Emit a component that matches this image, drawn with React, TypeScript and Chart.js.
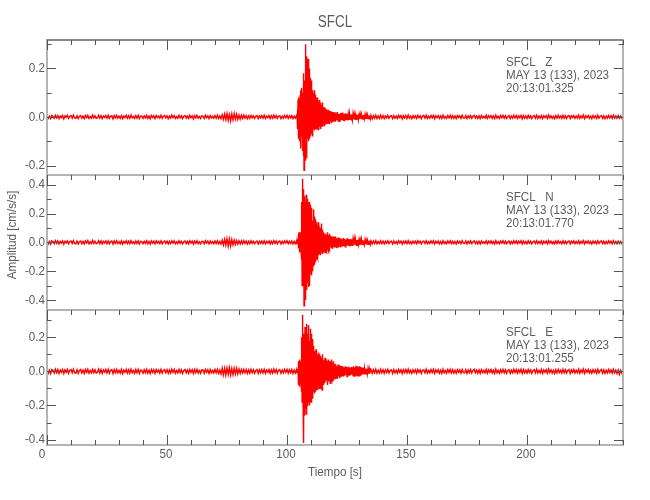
import { useEffect, useRef } from "react";
import { Chart, registerables } from "chart.js";

Chart.register(...registerables);

// ---------- axis / tick data ----------
const xMajorTicks = [0, 50, 100, 150, 200];
const xMinorTicks = [0, 10, 20, 30, 40, 50, 60, 70, 80, 90, 100, 110, 120, 130, 140, 150, 160, 170, 180, 190, 200, 210, 220, 230, 240];
const xTickLabels = ["0", "50", "100", "150", "200"];

const zMajorTicks = [-0.2, 0, 0.2];
const zMinorTicks = [-0.2, -0.1, 0, 0.1, 0.2, 0.3];
const zTickLabels = ["-0.2", "0.0", "0.2"];
const nMajorTicks = [-0.4, -0.2, 0, 0.2, 0.4];
const nMinorTicks = [-0.4, -0.3, -0.2, -0.1, 0, 0.1, 0.2, 0.3, 0.4];
const nTickLabels = ["-0.4", "-0.2", "0.0", "0.2", "0.4"];
const eMajorTicks = [-0.4, -0.2, 0, 0.2];
const eMinorTicks = [-0.4, -0.3, -0.2, -0.1, 0, 0.1, 0.2, 0.3];
const eTickLabels = ["-0.4", "-0.2", "0.0", "0.2"];

const zRange = [-0.239, 0.317];
const nRange = [-0.469, 0.467];
const eRange = [-0.432, 0.36];

const stationName = "SFCL";
const components = ["Z", "N", "E"];
const dateLabel = "MAY 13 (133), 2023";
const startTimes = ["20:13:01.325", "20:13:01.770", "20:13:01.255"];

// sample timing of each segment: [start s, step s]
const preTiming = [0, 0.5];
const eventTiming = [104, 0.1];
const codaTiming = [120, 0.25];
const postTiming = [135, 0.5];

// ---------- Z trace (cm/s/s) ----------
const zPre = [
  0.005, -0.006, 0.003, -0.007, 0.006, 0.002, -0.005, 0.007, -0.004, 0.006,
  -0.007, 0.004, -0.003, 0.006, -0.008, 0.005, -0.002, 0.007, -0.006, 0.003,
  0.006, -0.005, 0.008, -0.004, -0.006, 0.005, -0.007, 0.003, 0.006, -0.005,
  0.004, -0.007, 0.006, -0.003, 0.007, -0.006, 0.002, -0.005, 0.008, -0.004,
  0.005, -0.006, -0.003, 0.007, -0.005, 0.006, -0.007, 0.004, -0.002, 0.006,
  -0.005, 0.007, -0.006, 0.003, 0.005, -0.008, 0.006, -0.004, 0.007, -0.005,
  0.003, -0.006, 0.006, -0.007, 0.004, -0.003, 0.007, -0.005, 0.005, -0.006,
  0.008, -0.004, 0.002, -0.006, 0.006, -0.005, 0.007, -0.007, 0.004, 0.003,
  -0.006, 0.005, -0.004, 0.007, -0.006, 0.004, -0.008, 0.006, -0.003, 0.005,
  -0.007, 0.006, -0.002, 0.004, -0.005, 0.007, -0.006, 0.003, 0.006, -0.004,
  0.005, -0.007, 0.004, -0.005, 0.008, -0.003, 0.006, -0.006, 0.002, -0.005,
  0.007, -0.004, 0.005, -0.007, 0.003, 0.006, -0.005, 0.004, -0.006, 0.007,
  -0.003, 0.005, -0.008, 0.006, -0.004, 0.007, -0.005, 0.002, -0.006, 0.005,
  0.004, -0.006, 0.007, -0.003, 0.005, -0.007, 0.006, -0.004, 0.003, -0.005,
  0.006, -0.005, 0.007, -0.006, 0.004, -0.007, 0.009, -0.01, 0.012, -0.011,
  0.015, -0.014, 0.01, -0.016, 0.013, -0.012, 0.014, -0.009, 0.011, -0.01,
  0.008, -0.009, 0.007, -0.006, 0.008, -0.005, 0.006, -0.007, 0.005, -0.006,
  0.007, -0.004, 0.005, -0.006, 0.003, 0.006, -0.007, 0.005, -0.004, 0.006,
  -0.005, 0.007, -0.006, 0.004, -0.003, 0.006, -0.007, 0.005, -0.005, 0.008,
  -0.004, 0.006, -0.006, 0.003, 0.005, -0.007, 0.004, -0.005, 0.006, -0.003,
  0.007, -0.006, 0.005, -0.004, 0.006, -0.007, 0.004, -0.005,
];
const zEvent = [
  0.006, -0.005, 0.007, -0.006,
  0.03, -0.05, 0.07, -0.04, 0.08, -0.09, 0.05, -0.07, 0.06, -0.1, 0.04,
  0.09, -0.06, 0.11, -0.13, 0.07, -0.08, 0.12, -0.05, 0.1, -0.14, 0.06, -0.11, 0.08,
  0.18, -0.16, 0.12, -0.22, 0.15, -0.19, 0.1,
  -0.14, 0.21, -0.1, 0.3, -0.18, 0.25, -0.12, 0.16, -0.17, 0.22,
  -0.09, 0.18, -0.06, 0.24, -0.1, 0.13, -0.08, 0.2, -0.05, 0.11, -0.09, 0.16, -0.07, 0.12,
  -0.08, 0.15, -0.04, 0.09, -0.07, 0.13, -0.06, 0.08, -0.08, 0.11, -0.03,
  0.1, -0.05, 0.07, -0.04, 0.11, -0.055, 0.06, -0.03, 0.09, -0.05, 0.05, -0.04, 0.08, -0.03,
  0.06, -0.05, 0.04, -0.03, 0.08, -0.04, 0.05, -0.055, 0.03, -0.02,
  0.07, -0.04, 0.05, -0.03, 0.04, -0.05, 0.06, -0.02, 0.03, -0.04,
  0.05, -0.03, 0.04, -0.02, 0.06, -0.04, 0.03,
  -0.03, 0.04, -0.02, 0.03, -0.035, 0.02, -0.03, 0.04, -0.02, 0.025,
  -0.03, 0.035, -0.015, 0.02, -0.03, 0.03, -0.025, 0.02, -0.02, 0.03,
  -0.025, 0.015, -0.02, 0.03, -0.015, 0.025, -0.02, 0.02, -0.03, 0.015,
  -0.02, 0.025, -0.015, 0.02, -0.02, 0.015, -0.025, 0.02, -0.015, 0.02,
  -0.02, 0.015, -0.015, 0.02, -0.02, 0.012, -0.018, 0.015, -0.012,
];
const zCoda = [
  0.018, -0.02, 0.015, -0.012, 0.02, -0.016, 0.012, -0.018, 0.014, -0.015,
  0.016, -0.012, 0.018, -0.014, 0.011, -0.015, 0.013, -0.01, 0.015, -0.012,
  0.012, -0.014, 0.01, -0.012, 0.013, -0.01, 0.011, -0.012, 0.009, -0.011,
  0.012, -0.009, 0.01, -0.011, 0.008, -0.01, 0.011, -0.008, 0.009, -0.01,
  0.008, -0.009, 0.01, -0.007, 0.009, -0.008, 0.007, -0.009, 0.008, -0.007,
  0.009, -0.008, 0.007, -0.008, 0.008, -0.006, 0.007, -0.008, 0.006, -0.007,
];
const zPost = [
  0.007, -0.008, 0.006, -0.005, 0.008, -0.007, 0.004, -0.006, 0.007, -0.005,
  0.006, -0.007, 0.005, -0.004, 0.007, -0.006, 0.003, 0.005, -0.007, 0.006,
  -0.005, 0.004, -0.006, 0.007, -0.003, 0.006, -0.008, 0.005, -0.004, 0.006,
  -0.006, 0.008, -0.005, 0.003, -0.007, 0.006, -0.004, 0.005, -0.006, 0.007,
  -0.003, 0.005, -0.007, 0.004, 0.006, -0.005, 0.007, -0.006, 0.003, -0.005,
  0.006, -0.004, 0.007, -0.007, 0.005, -0.003, 0.006, -0.006, 0.004, -0.007,
  0.008, -0.005, 0.002, -0.006, 0.006, -0.004, 0.007, -0.005, 0.005, -0.006,
  0.004, -0.007, 0.006, -0.003, 0.005, -0.006, 0.007, -0.004, -0.005, 0.006,
  -0.007, 0.005, -0.004, 0.006, -0.006, 0.003, 0.007, -0.005, 0.004, -0.006,
  0.005, -0.007, 0.006, -0.004, 0.003, -0.005, 0.007, -0.006, 0.005, -0.003,
  0.006, -0.006, 0.004, -0.007, 0.008, -0.005, 0.003, -0.006, 0.006, -0.004,
  0.007, -0.005, 0.005, -0.006, 0.002, 0.006, -0.007, 0.004, -0.005, 0.007,
  -0.004, 0.006, -0.006, 0.005, -0.003, 0.007, -0.008, 0.006, -0.005, 0.004,
  -0.006, 0.007, -0.004, 0.005, -0.007, 0.003, 0.006, -0.005, 0.007, -0.006,
  0.004, -0.005, 0.006, -0.007, 0.005, -0.003, 0.006, -0.006, 0.008, -0.004,
  0.005, -0.006, 0.003, -0.007, 0.006, -0.005, 0.007, -0.004, 0.004, -0.006,
  0.007, -0.005, 0.005, -0.006, 0.004, 0.006, -0.007, 0.005, -0.003, 0.006,
  -0.006, 0.004, -0.005, 0.007, -0.006, 0.005, -0.004, 0.008, -0.007, 0.005,
  -0.003, 0.006, -0.005, 0.004, -0.007, 0.006, -0.004, 0.005, -0.006, 0.007,
  -0.005, 0.003, 0.006, -0.006, 0.005, -0.007, 0.004, -0.005, 0.006, -0.004,
  0.005, -0.006, 0.007, -0.005, 0.004, -0.006, 0.006, -0.005, 0.004, -0.005, 0.005,
];

// ---------- N trace ----------
const nPre = [
  0.009, -0.011, 0.006, -0.012, 0.01, 0.004, -0.009, 0.012, -0.007, 0.01,
  -0.011, 0.007, -0.005, 0.01, -0.013, 0.008, -0.004, 0.011, -0.01, 0.006,
  0.01, -0.008, 0.012, -0.007, -0.01, 0.009, -0.012, 0.005, 0.01, -0.009,
  0.007, -0.011, 0.01, -0.005, 0.012, -0.01, 0.004, -0.008, 0.013, -0.007,
  0.008, -0.01, -0.005, 0.012, -0.009, 0.01, -0.011, 0.007, -0.004, 0.01,
  -0.009, 0.011, -0.01, 0.005, 0.009, -0.012, 0.01, -0.007, 0.011, -0.008,
  0.005, -0.01, 0.01, -0.012, 0.007, -0.005, 0.011, -0.009, 0.008, -0.01,
  0.012, -0.007, 0.004, -0.01, 0.01, -0.008, 0.011, -0.011, 0.007, 0.005,
  -0.01, 0.008, -0.007, 0.011, -0.01, 0.007, -0.012, 0.01, -0.005, 0.009,
  -0.011, 0.01, -0.004, 0.007, -0.009, 0.011, -0.01, 0.005, 0.01, -0.007,
  0.009, -0.011, 0.007, -0.009, 0.012, -0.005, 0.01, -0.01, 0.004, -0.008,
  0.011, -0.007, 0.008, -0.011, 0.005, 0.01, -0.009, 0.007, -0.01, 0.011,
  -0.005, 0.009, -0.012, 0.01, -0.007, 0.011, -0.009, 0.004, -0.01, 0.008,
  0.007, -0.01, 0.011, -0.005, 0.009, -0.011, 0.01, -0.007, 0.005, -0.009,
  0.01, -0.008, 0.011, -0.01, 0.007, -0.012, 0.015, -0.018, 0.021, -0.02,
  0.026, -0.027, 0.022, -0.025, 0.02, -0.018, 0.016, -0.015, 0.013, -0.012,
  0.011, -0.012, 0.01, -0.009, 0.012, -0.008, 0.01, -0.011, 0.008, -0.01,
  0.011, -0.007, 0.008, -0.01, 0.005, 0.01, -0.011, 0.008, -0.007, 0.01,
  -0.009, 0.011, -0.01, 0.007, -0.005, 0.01, -0.011, 0.008, -0.009, 0.012,
  -0.007, 0.01, -0.01, 0.005, 0.009, -0.011, 0.007, -0.008, 0.01, -0.005,
  0.011, -0.01, 0.008, -0.007, 0.01, -0.011, 0.007, -0.009,
];
const nEvent = [
  0.01, -0.012, 0.008, -0.011, 0.012, -0.009, 0.011,
  -0.04, 0.06, -0.03, 0.07, -0.06, 0.05, -0.07, 0.04, -0.05, 0.07, -0.04, 0.06, -0.07, 0.05,
  -0.12, 0.28, -0.3, 0.44, -0.22, 0.35, -0.18, 0.3,
  -0.3, 0.37, -0.44, 0.2, -0.38, 0.32, -0.25, 0.28, -0.4, 0.15, -0.33,
  0.33, -0.2, 0.25, -0.33, 0.18, -0.28, 0.3, -0.15, 0.22, -0.31, 0.12, -0.26, 0.28, -0.18, 0.2, -0.3, 0.16,
  -0.22, 0.26, -0.12, 0.18, -0.23, 0.1, -0.17, 0.24, -0.14, 0.15, -0.2, 0.12, -0.16, 0.21,
  -0.1, 0.23, -0.15, 0.12, -0.08, 0.18, -0.13, 0.09, -0.11, 0.16, -0.06, 0.14, -0.12, 0.1,
  -0.08, 0.12, -0.1, 0.06, -0.05, 0.14, -0.07, 0.09, -0.09, 0.05,
  -0.06, 0.11, -0.08, 0.07, -0.04, 0.1, -0.09, 0.06, -0.07, 0.13,
  -0.05, 0.08, -0.06, 0.09, -0.08, 0.05, -0.07,
  0.07, -0.05, 0.04, -0.06, 0.06, -0.03, 0.05, -0.07, 0.04, -0.04,
  0.06, -0.05, 0.03, -0.06, 0.05, -0.04, 0.07, -0.03, 0.04, -0.05,
  0.05, -0.06, 0.03, -0.04, 0.06, -0.03, 0.04, -0.05,
  0.04, -0.03, 0.045, -0.025, 0.03, -0.04, 0.02, -0.035, 0.04, -0.02,
  0.03, -0.045, 0.025, -0.03, 0.035, -0.02, 0.04, -0.03, 0.02, -0.035,
];
const nCoda = [
  0.04, -0.035, 0.03, -0.04, 0.025, -0.03, 0.035, -0.02, 0.03, -0.035,
  0.025, -0.03, 0.02, -0.028, 0.03, -0.02, 0.025, -0.03, 0.018, -0.025,
  0.028, -0.02, 0.022, -0.025, 0.018, -0.022, 0.025, -0.016, 0.02, -0.024,
  0.018, -0.02, 0.022, -0.015, 0.02, -0.018, 0.016, -0.02, 0.018, -0.014,
  0.016, -0.018, 0.014, -0.016, 0.018, -0.012, 0.015, -0.016, 0.012, -0.014,
  0.015, -0.012, 0.013, -0.014, 0.011, -0.013, 0.012, -0.011, 0.013, -0.012,
];
const nPost = [
  0.01, -0.011, 0.009, -0.008, 0.012, -0.01, 0.006, -0.009, 0.011, -0.008,
  0.009, -0.011, 0.008, -0.006, 0.011, -0.009, 0.005, 0.008, -0.011, 0.01,
  -0.008, 0.006, -0.01, 0.011, -0.005, 0.009, -0.012, 0.008, -0.006, 0.01,
  -0.009, 0.012, -0.008, 0.005, -0.011, 0.009, -0.006, 0.008, -0.01, 0.011,
  -0.005, 0.008, -0.011, 0.006, 0.009, -0.008, 0.011, -0.009, 0.005, -0.008,
  0.01, -0.006, 0.011, -0.011, 0.008, -0.005, 0.009, -0.01, 0.006, -0.011,
  0.012, -0.008, 0.004, -0.009, 0.01, -0.006, 0.011, -0.008, 0.008, -0.009,
  0.006, -0.011, 0.009, -0.005, 0.008, -0.01, 0.011, -0.006, -0.008, 0.009,
  -0.011, 0.008, -0.006, 0.01, -0.009, 0.005, 0.011, -0.008, 0.006, -0.01,
  0.008, -0.011, 0.009, -0.006, 0.005, -0.008, 0.011, -0.01, 0.008, -0.005,
  0.01, -0.009, 0.006, -0.011, 0.012, -0.008, 0.005, -0.01, 0.009, -0.006,
  0.011, -0.008, 0.008, -0.01, 0.004, 0.009, -0.011, 0.006, -0.008, 0.011,
  -0.006, 0.01, -0.009, 0.008, -0.005, 0.011, -0.012, 0.009, -0.008, 0.006,
  -0.01, 0.011, -0.006, 0.008, -0.011, 0.005, 0.01, -0.008, 0.011, -0.009,
  0.006, -0.008, 0.01, -0.011, 0.008, -0.005, 0.009, -0.01, 0.012, -0.006,
  0.008, -0.01, 0.005, -0.011, 0.009, -0.008, 0.011, -0.006, 0.006, -0.01,
  0.011, -0.008, 0.008, -0.009, 0.006, 0.01, -0.011, 0.008, -0.005, 0.01,
  -0.009, 0.006, -0.008, 0.011, -0.01, 0.008, -0.006, 0.012, -0.011, 0.008,
  -0.005, 0.01, -0.008, 0.006, -0.011, 0.009, -0.006, 0.008, -0.01, 0.011,
  -0.008, 0.005, 0.01, -0.009, 0.008, -0.011, 0.006, -0.008, 0.01, -0.006,
  0.008, -0.01, 0.011, -0.008, 0.006, -0.01, 0.009, -0.008, 0.006, -0.008, 0.008,
];

// ---------- E trace ----------
const ePre = [
  0.01, -0.012, 0.007, -0.013, 0.011, 0.005, -0.01, 0.012, -0.008, 0.011,
  -0.012, 0.008, -0.006, 0.011, -0.013, 0.009, -0.005, 0.012, -0.011, 0.007,
  0.011, -0.009, 0.013, -0.008, -0.011, 0.01, -0.012, 0.006, 0.011, -0.01,
  0.008, -0.012, 0.011, -0.006, 0.013, -0.011, 0.005, -0.009, 0.012, -0.008,
  0.009, -0.011, -0.006, 0.013, -0.01, 0.011, -0.012, 0.008, -0.005, 0.011,
  -0.01, 0.012, -0.011, 0.006, 0.01, -0.013, 0.011, -0.008, 0.012, -0.009,
  0.006, -0.011, 0.011, -0.013, 0.008, -0.006, 0.012, -0.01, 0.009, -0.011,
  0.013, -0.008, 0.005, -0.011, 0.011, -0.009, 0.012, -0.012, 0.008, 0.006,
  -0.011, 0.009, -0.008, 0.012, -0.011, 0.008, -0.013, 0.011, -0.006, 0.01,
  -0.012, 0.011, -0.005, 0.008, -0.01, 0.012, -0.011, 0.006, 0.011, -0.008,
  0.01, -0.012, 0.008, -0.01, 0.013, -0.006, 0.011, -0.011, 0.005, -0.009,
  0.012, -0.008, 0.009, -0.012, 0.006, 0.011, -0.01, 0.008, -0.011, 0.012,
  -0.006, 0.01, -0.013, 0.011, -0.008, 0.012, -0.01, 0.005, -0.011, 0.009,
  0.008, -0.011, 0.012, -0.006, 0.01, -0.012, 0.011, -0.008, 0.006, -0.01,
  0.011, -0.009, 0.012, -0.011, 0.008, -0.016, 0.019, -0.02, 0.018, -0.022,
  0.02, -0.018, 0.022, -0.021, 0.017, -0.02, 0.019, -0.016, 0.018, -0.015,
  0.014, -0.012, 0.011, -0.01, 0.012, -0.009, 0.011, -0.012, 0.009, -0.011,
  0.012, -0.008, 0.009, -0.011, 0.006, 0.011, -0.012, 0.009, -0.008, 0.011,
  -0.01, 0.012, -0.011, 0.008, -0.006, 0.011, -0.012, 0.009, -0.01, 0.013,
  -0.008, 0.011, -0.011, 0.006, 0.01, -0.012, 0.008, -0.009, 0.011, -0.006,
  0.012, -0.011, 0.009, -0.008, 0.011, -0.012, 0.008, -0.01,
];
const eEvent = [
  0.011, -0.01, 0.012, -0.009, 0.01, -0.012, 0.009,
  -0.05, 0.06, -0.08, 0.04, -0.06, 0.07, -0.09, 0.05, -0.04, 0.06, -0.07, 0.03, -0.08, 0.07,
  -0.12, 0.2, -0.18, 0.33, -0.15, 0.26, -0.2, 0.18, -0.1, -0.42, 0.22,
  -0.26, 0.2, -0.14, 0.26, -0.22, 0.12, -0.18, 0.24, -0.25, 0.16, -0.12,
  0.28, -0.2, 0.15, -0.12, 0.22, -0.18, 0.1, -0.16, 0.27, -0.08, 0.18, -0.2, 0.13, -0.14,
  0.25, -0.1, 0.16, -0.18, 0.08, -0.13, 0.22, -0.15, 0.12, -0.09, 0.19, -0.16, 0.1, -0.12,
  0.15, -0.08, 0.1, -0.13, 0.06, -0.1, 0.12, -0.07, 0.09, -0.12, 0.13, -0.05, 0.08, -0.11, 0.1, -0.06,
  0.09, -0.11, 0.05, -0.07, 0.11, -0.08, 0.06, -0.1, 0.08, -0.04,
  0.1, -0.09, 0.05, -0.06, 0.09, -0.1, 0.07, -0.05, 0.08, -0.11,
  0.06, -0.07, 0.1, -0.06, 0.05,
  -0.08, 0.06, -0.05, 0.07, -0.06, 0.04, -0.07, 0.08, -0.04, 0.05,
  -0.06, 0.03, -0.05, 0.07, -0.04, 0.06, -0.08, 0.04, -0.03, 0.05,
  -0.06, 0.07, -0.05, 0.04, -0.06, 0.05, -0.03, 0.06, -0.07, 0.04,
  -0.05, 0.06, -0.04, 0.03, -0.05, 0.07, -0.04, 0.05, -0.06, 0.04,
  -0.05, 0.06,
  -0.04, 0.045, -0.03, 0.04, -0.035, 0.03,
];
const eCoda = [
  -0.04, 0.045, -0.035, 0.03, -0.045, 0.04, -0.03, 0.035, -0.04, 0.03,
  -0.028, 0.032, -0.025, 0.03, -0.03, 0.022, -0.026, 0.03, -0.02, 0.025,
  -0.03, 0.024, -0.02, 0.028, -0.025, 0.02, -0.022, 0.026, -0.018, 0.022,
  -0.025, 0.03, -0.028, 0.022, -0.03, 0.032, -0.025, 0.028, -0.03, 0.024,
  -0.026, 0.03, -0.022, 0.025, -0.02, 0.022, -0.018, 0.02, -0.016, 0.018,
  -0.015, 0.017, -0.014, 0.016, -0.013, 0.015, -0.014, 0.012, -0.013, 0.014,
];
const ePost = [
  0.011, -0.012, 0.01, -0.009, 0.013, -0.011, 0.007, -0.01, 0.012, -0.009,
  0.01, -0.012, 0.009, -0.007, 0.012, -0.01, 0.006, 0.009, -0.012, 0.011,
  -0.009, 0.007, -0.011, 0.012, -0.006, 0.01, -0.013, 0.009, -0.007, 0.011,
  -0.01, 0.013, -0.009, 0.006, -0.012, 0.01, -0.007, 0.009, -0.011, 0.012,
  -0.006, 0.009, -0.012, 0.007, 0.01, -0.009, 0.012, -0.01, 0.006, -0.009,
  0.011, -0.007, 0.012, -0.012, 0.009, -0.006, 0.01, -0.011, 0.007, -0.012,
  0.013, -0.009, 0.005, -0.01, 0.011, -0.007, 0.012, -0.009, 0.009, -0.01,
  0.007, -0.012, 0.01, -0.006, 0.009, -0.011, 0.012, -0.007, -0.009, 0.01,
  -0.012, 0.009, -0.007, 0.011, -0.01, 0.006, 0.012, -0.009, 0.007, -0.011,
  0.009, -0.012, 0.01, -0.007, 0.006, -0.009, 0.012, -0.011, 0.009, -0.006,
  0.011, -0.01, 0.007, -0.012, 0.013, -0.009, 0.006, -0.011, 0.01, -0.007,
  0.012, -0.009, 0.009, -0.011, 0.005, 0.01, -0.012, 0.007, -0.009, 0.012,
  -0.007, 0.011, -0.01, 0.009, -0.006, 0.012, -0.013, 0.01, -0.009, 0.007,
  -0.011, 0.012, -0.007, 0.009, -0.012, 0.006, 0.011, -0.009, 0.012, -0.01,
  0.007, -0.009, 0.011, -0.012, 0.009, -0.006, 0.01, -0.011, 0.013, -0.007,
  0.009, -0.011, 0.006, -0.012, 0.01, -0.009, 0.012, -0.007, 0.007, -0.011,
  0.012, -0.009, 0.009, -0.01, 0.007, 0.011, -0.012, 0.009, -0.006, 0.011,
  -0.01, 0.007, -0.009, 0.012, -0.011, 0.009, -0.007, 0.013, -0.012, 0.009,
  -0.006, 0.011, -0.009, 0.007, -0.012, 0.01, -0.007, 0.009, -0.011, 0.012,
  -0.009, 0.006, 0.011, -0.01, 0.009, -0.012, 0.007, -0.009, 0.011, -0.007,
  0.009, -0.011, 0.012, -0.009, 0.007, -0.013, 0.008, -0.018, 0.006, -0.01, 0.009,
];

// ---------- helpers ----------
type Pt = { x: number; y: number };
function buildSeries(pre: number[], ev: number[], coda: number[], post: number[]): Pt[] {
  const segs: [number[], number[]][] = [
    [preTiming, pre],
    [eventTiming, ev],
    [codaTiming, coda],
    [postTiming, post],
  ];
  const pts: Pt[] = [];
  for (const [[t0, dt], vals] of segs) {
    vals.forEach((v, i) => pts.push({ x: Math.round((t0 + i * dt) * 1000) / 1000, y: v }));
  }
  return pts;
}

const FONT = "'Liberation Sans', Arial, sans-serif";
const NARROW = 0.86;
const TEXT_COLOR = "#5c5c5c";
const FRAME_COLOR = "#b4b4b4";
const TICK_COLOR = "#555555";

function narrowText(ctx: CanvasRenderingContext2D, text: string, x: number, y: number, sx = NARROW) {
  ctx.save();
  ctx.translate(x, y);
  ctx.scale(sx, 1);
  ctx.fillText(text, 0, 0);
  ctx.restore();
}

const panels = [
  { id: "yz", major: zMajorTicks, minor: zMinorTicks, labels: zTickLabels },
  { id: "yn", major: nMajorTicks, minor: nMinorTicks, labels: nTickLabels },
  { id: "ye", major: eMajorTicks, minor: eMinorTicks, labels: eTickLabels },
];

const seismoPlugin = {
  id: "seismoFrames",
  afterDatasetsDraw(chart: any) {
    const ctx: CanvasRenderingContext2D = chart.ctx;
    const area = chart.chartArea;
    const xs = chart.scales.x;
    const left = area.left;
    const right = area.right;
    ctx.save();
    panels.forEach((p, idx) => {
      const ys = chart.scales[p.id];
      const top = ys.top;
      const bottom = ys.bottom;
      ctx.lineWidth = 2;
      ctx.strokeStyle = FRAME_COLOR;
      ctx.strokeRect(left, top, right - left, bottom - top);
      if (idx === 0) {
        ctx.strokeStyle = "#8a8a8a";
        ctx.beginPath();
        ctx.moveTo(left, top);
        ctx.lineTo(right, top);
        ctx.stroke();
      }
      ctx.lineWidth = 1;
      ctx.strokeStyle = TICK_COLOR;
      ctx.beginPath();
      xMinorTicks.forEach((v) => {
        const px = Math.round(xs.getPixelForValue(v)) + 0.5;
        const len = xMajorTicks.includes(v) ? 10 : 5;
        ctx.moveTo(px, top);
        ctx.lineTo(px, top + len);
        if (idx === panels.length - 1) {
          ctx.moveTo(px, bottom);
          ctx.lineTo(px, bottom - len);
        }
      });
      p.minor.forEach((v) => {
        const py = Math.round(ys.getPixelForValue(v)) + 0.5;
        const len = p.major.includes(v) ? 9 : 4.5;
        ctx.moveTo(left, py);
        ctx.lineTo(left + len, py);
        ctx.moveTo(right, py);
        ctx.lineTo(right - len, py);
      });
      ctx.stroke();
      ctx.fillStyle = TEXT_COLOR;
      ctx.font = `13.5px ${FONT}`;
      ctx.textAlign = "right";
      ctx.textBaseline = "middle";
      p.major.forEach((v, i) => {
        narrowText(ctx, p.labels[i], left - 2, ys.getPixelForValue(v));
      });
      ctx.textAlign = "left";
      const tx = 506;
      narrowText(ctx, `${stationName}   ${components[idx]}`, tx, top + 22.5);
      narrowText(ctx, dateLabel, tx, top + 35.5);
      narrowText(ctx, startTimes[idx], tx, top + 48.5);
    });
    const last = chart.scales[panels[panels.length - 1].id];
    ctx.textAlign = "center";
    ctx.textBaseline = "middle";
    ctx.font = `13.5px ${FONT}`;
    xMajorTicks.forEach((v, i) => {
      const px = xs.getPixelForValue(v) - (v === 0 ? 5 : 1);
      narrowText(ctx, xTickLabels[i], px, last.bottom + 9.5);
    });
    const cx = (left + right) / 2;
    narrowText(ctx, "Tiempo [s]", cx, last.bottom + 27);
    ctx.save();
    ctx.translate(12.5, 235);
    ctx.rotate(-Math.PI / 2);
    narrowText(ctx, "Amplitud [cm/s/s]", 0, 0);
    ctx.restore();
    ctx.font = `16px ${FONT}`;
    narrowText(ctx, stationName, cx, 23, 0.84);
    ctx.restore();
  },
};

export default function App() {
  const ref = useRef<HTMLCanvasElement | null>(null);
  useEffect(() => {
    document.body.style.margin = "0";
    const canvas = ref.current;
    if (!canvas) return;
    const mkY = (range: number[]) => ({
      type: "linear" as const,
      position: "left" as const,
      stack: "traces",
      stackWeight: 1,
      min: range[0],
      max: range[1],
      ticks: { display: false },
      grid: { display: false },
      border: { display: false },
      afterFit: (s: any) => {
        s.width = 0;
      },
    });
    const ds = (label: string, data: Pt[], axis: string) => ({
      label,
      data,
      yAxisID: axis,
      borderColor: "rgb(255,0,0)",
      borderWidth: 1.4,
      pointRadius: 0,
      fill: false,
      tension: 0,
    });
    const chart = new Chart(canvas, {
      type: "line",
      data: {
        datasets: [
          ds("Z", buildSeries(zPre, zEvent, zCoda, zPost), "yz"),
          ds("N", buildSeries(nPre, nEvent, nCoda, nPost), "yn"),
          ds("E", buildSeries(ePre, eEvent, eCoda, ePost), "ye"),
        ],
      },
      options: {
        animation: false,
        responsive: false,
        devicePixelRatio: 1,
        parsing: false,
        normalized: true,
        events: [],
        layout: { padding: { left: 47, right: 27, top: 40, bottom: 55 } },
        plugins: { legend: { display: false }, tooltip: { enabled: false }, title: { display: false } },
        scales: {
          x: {
            type: "linear",
            min: 0,
            max: 240,
            ticks: { display: false },
            grid: { display: false },
            border: { display: false },
            afterFit: (s: any) => {
              s.height = 0;
            },
          },
          // stacked panels: the last listed is placed on top
          ye: mkY(eRange),
          yn: mkY(nRange),
          yz: mkY(zRange),
        },
      } as any,
      plugins: [seismoPlugin],
    });
    return () => chart.destroy();
  }, []);
  return <canvas ref={ref} width={650} height={500} style={{ display: "block", background: "#fff" }} />;
}
